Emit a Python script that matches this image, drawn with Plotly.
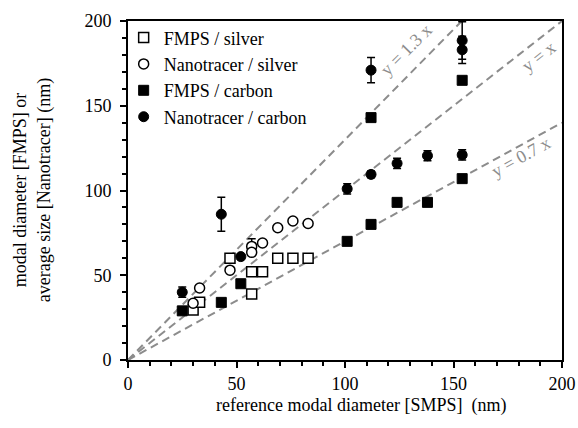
import plotly.graph_objects as go

# ---- data ----
fmps_silver_x = [30, 33, 47, 57, 62, 57, 69, 76, 83]
fmps_silver_y = [29.5, 34, 60, 52, 52, 39, 60, 60, 60]

nano_silver_x = [30, 33, 47, 57, 57, 62, 69, 76, 83]
nano_silver_y = [33.5, 42.5, 53, 67, 63.5, 69, 78, 82, 80.5]
nano_silver_err = [0, 0, 0, 4.5, 0, 0, 0, 0, 0]

fmps_carbon_x = [25, 43, 52, 101, 112, 112, 124, 138, 154, 154]
fmps_carbon_y = [29, 34, 45, 70, 80, 143, 93, 93, 107, 165]

nano_carbon_x = [25, 43, 52, 101, 112, 112, 124, 138, 154, 154, 154]
nano_carbon_y = [40, 86, 61, 101, 109.5, 171, 116, 120.5, 121, 188.5, 183]
nano_carbon_err = [3, 10, 0, 3, 2, 7.5, 3, 3, 3, 11, 8]

ref_slopes = [1.3, 1.0, 0.7]
ref_labels = ["y = 1.3 x", "y = x", "y = 0.7 x"]
ref_label_x = [128, 189, 181]
ref_label_y = [183, 179, 119.5]
ref_label_angle = [-45, -38, -29]

x_title = "reference modal diameter [SMPS]  (nm)"
y_title = "modal diameter [FMPS] or<br>average size [Nanotracer] (nm)"

x_range = [0, 200]
y_range = [0, 200]

FONT = "Liberation Serif"

fig = go.Figure()

# reference lines
for s in ref_slopes:
    fig.add_trace(go.Scatter(
        x=x_range, y=[s * v for v in x_range], mode="lines",
        line=dict(color="#8c8c8c", width=2, dash="8px,5px"),
        showlegend=False, hoverinfo="skip"))

fig.add_trace(go.Scatter(
    x=fmps_carbon_x, y=fmps_carbon_y, mode="markers", name="FMPS / carbon",
    marker=dict(symbol="square", size=10, color="black", line=dict(color="black", width=1)),
    legendrank=3))
fig.add_trace(go.Scatter(
    x=nano_carbon_x, y=nano_carbon_y, mode="markers", name="Nanotracer / carbon",
    marker=dict(symbol="circle", size=10, color="black", line=dict(color="black", width=1)),
    error_y=dict(type="data", array=nano_carbon_err, color="black", thickness=1.5, width=4),
    legendrank=4))
fig.add_trace(go.Scatter(
    x=fmps_silver_x, y=fmps_silver_y, mode="markers", name="FMPS / silver",
    marker=dict(symbol="square", size=10, color="white", line=dict(color="black", width=1.5)),
    legendrank=1))
fig.add_trace(go.Scatter(
    x=nano_silver_x, y=nano_silver_y, mode="markers", name="Nanotracer / silver",
    marker=dict(symbol="circle", size=10, color="white", line=dict(color="black", width=1.5)),
    error_y=dict(type="data", array=nano_silver_err, color="black", thickness=1.5, width=4),
    legendrank=2))

for lab, lx, ly, ang in zip(ref_labels, ref_label_x, ref_label_y, ref_label_angle):
    fig.add_annotation(x=lx, y=ly, text=lab, showarrow=False, textangle=ang,
                       font=dict(family=FONT, size=18, color="#8c8c8c"))

# axis titles as annotations for precise placement
fig.add_annotation(xref="paper", yref="paper", x=0.537, y=-0.135, text=x_title,
                   showarrow=False, xanchor="center", yanchor="middle",
                   font=dict(family=FONT, size=18, color="black"))
fig.add_annotation(xref="paper", yref="paper", x=-0.222, y=0.5, text=y_title,
                   showarrow=False, xanchor="center", yanchor="middle", textangle=-90,
                   font=dict(family=FONT, size=18, color="black"))

axis_common = dict(
    showline=True, linecolor="black", linewidth=2, mirror=True,
    showgrid=False, zeroline=False, automargin=False,
    ticks="outside", ticklen=6, tickwidth=1.5, tickcolor="black",
    tickfont=dict(family=FONT, size=18, color="black"),
    dtick=50, tick0=0,
    minor=dict(ticks="outside", ticklen=4, tickwidth=1.5, tickcolor="black", dtick=10),
)

fig.update_layout(
    width=578, height=428,
    margin=dict(l=128, r=16, t=21, b=68),
    paper_bgcolor="white", plot_bgcolor="white",
    font=dict(family=FONT, color="black"),
    showlegend=True,
    legend=dict(x=-0.01, y=1.005, xanchor="left", yanchor="top",
                bgcolor="rgba(0,0,0,0)", font=dict(family=FONT, size=18),
                itemwidth=30, tracegroupgap=0, traceorder="normal"),
    xaxis=dict(range=x_range, **axis_common),
    yaxis=dict(range=y_range, ticklabelstandoff=5, **axis_common),
)

fig.write_html("out.html", post_script="document.body.style.margin='0';",
               config={"displayModeBar": False})
